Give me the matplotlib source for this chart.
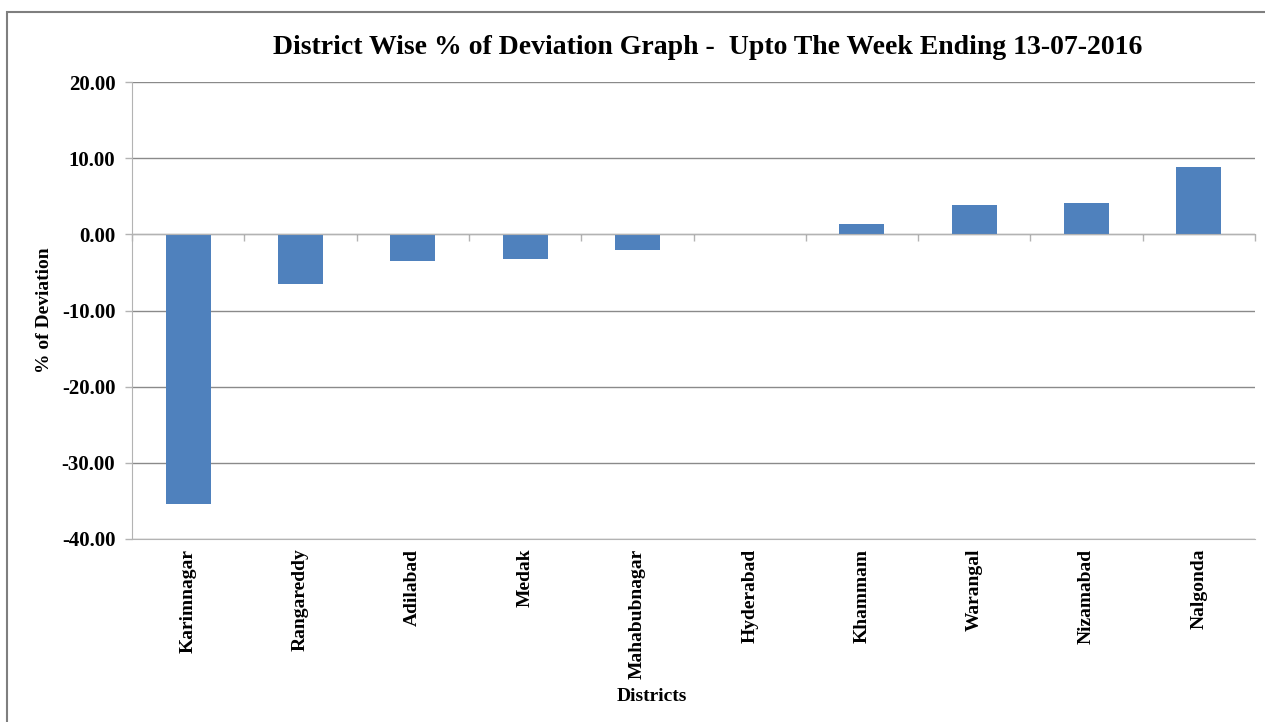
"""
District wise % of deviation bar chart (Excel style recreation).
"""
import matplotlib
matplotlib.use("Agg")
import matplotlib.pyplot as plt
import numpy as np
from matplotlib.patches import Rectangle
from matplotlib.ticker import FixedLocator, FuncFormatter, MultipleLocator

# ── Data ────────────────────────────────────────────────────────────────────
districts = ["Karimnagar", "Rangareddy", "Adilabad", "Medak", "Mahabubnagar",
             "Hyderabad", "Khammam", "Warangal", "Nizamabad", "Nalgonda"]
deviation = [-35.4, -6.5, -3.5, -3.3, -2.0, 0.0, 1.4, 3.9, 4.1, 8.9]

title = "District Wise % of Deviation Graph -  Upto The Week Ending 13-07-2016"
x_label = "Districts"
y_label = "% of Deviation"

# ── Style ───────────────────────────────────────────────────────────────────
BAR = "#4F81BD"
GRID = "#8a8a8a"
AXIS = "#b3b3b3"
FONT = "Liberation Serif"

plt.rcParams.update({
    "font.family": FONT,
    "font.weight": "bold",
    "axes.unicode_minus": False,
})

W, H = 1265, 722
fig = plt.figure(figsize=(W / 100, H / 100), dpi=100)
fig.patch.set_facecolor("white")

# plot area in pixels: left 132, right 1255, top 82, bottom 539
left, right, top, bottom = 132, 1255, 82, 539
ax = fig.add_axes([left / W, 1 - bottom / H, (right - left) / W, (bottom - top) / H])

# category axis crosses at zero (set first: moving a spine resets the ticks)
ax.spines["top"].set_position(("data", 0))
ax.spines["top"].set_color(AXIS)
ax.spines["top"].set_zorder(4)
ax.spines["right"].set_visible(False)
ax.spines["left"].set_color(AXIS)
ax.spines["bottom"].set_color(AXIS)

x = np.arange(len(districts))
ax.bar(x, deviation, width=0.4, color=BAR, zorder=3)

ax.set_xlim(-0.5, len(districts) - 0.5)
ax.set_ylim(-40, 20)
ax.yaxis.set_major_locator(MultipleLocator(10))
ax.yaxis.set_major_formatter(FuncFormatter(lambda v, _: f"{v:.2f}"))
ax.grid(True, axis="y", color=GRID, lw=1.0, zorder=0)

# category labels under the plot area
ax.set_xticks(x)
ax.set_xticklabels(districts)
ax.tick_params(axis="x", which="major", length=0, pad=7, labelsize=14,
               labelrotation=90)
ax.tick_params(axis="y", length=5, width=1, color=AXIS, pad=7, labelsize=15)

# boundary ticks on the zero line, pointing down
ax.xaxis.set_minor_locator(FixedLocator(np.arange(-0.5, len(districts), 1.0)))
ax.tick_params(axis="x", which="minor", top=True, bottom=False, direction="in",
               length=5, width=1, color=AXIS)

ax.set_ylabel(y_label, fontsize=14, fontweight="bold")
ax.yaxis.set_label_coords((53 - left) / (right - left), 0.5)
ax.set_xlabel(x_label, fontsize=14, fontweight="bold")
ax.xaxis.set_label_coords((652 - left) / (right - left), (bottom - 688) / (bottom - top))

fig.text(708 / W, 1 - 48 / H, title, ha="center", va="center",
         fontsize=20, fontweight="bold")

# chart area border (left and top edges visible in the reference)
fig.patches.append(Rectangle((7 / W, -0.05), 1.0, 1 - 12 / H + 0.05,
                             transform=fig.transFigure, fill=False,
                             edgecolor="#7f7f7f", lw=1.5))

fig.savefig("out.png", dpi=100, facecolor="white")
plt.close(fig)
